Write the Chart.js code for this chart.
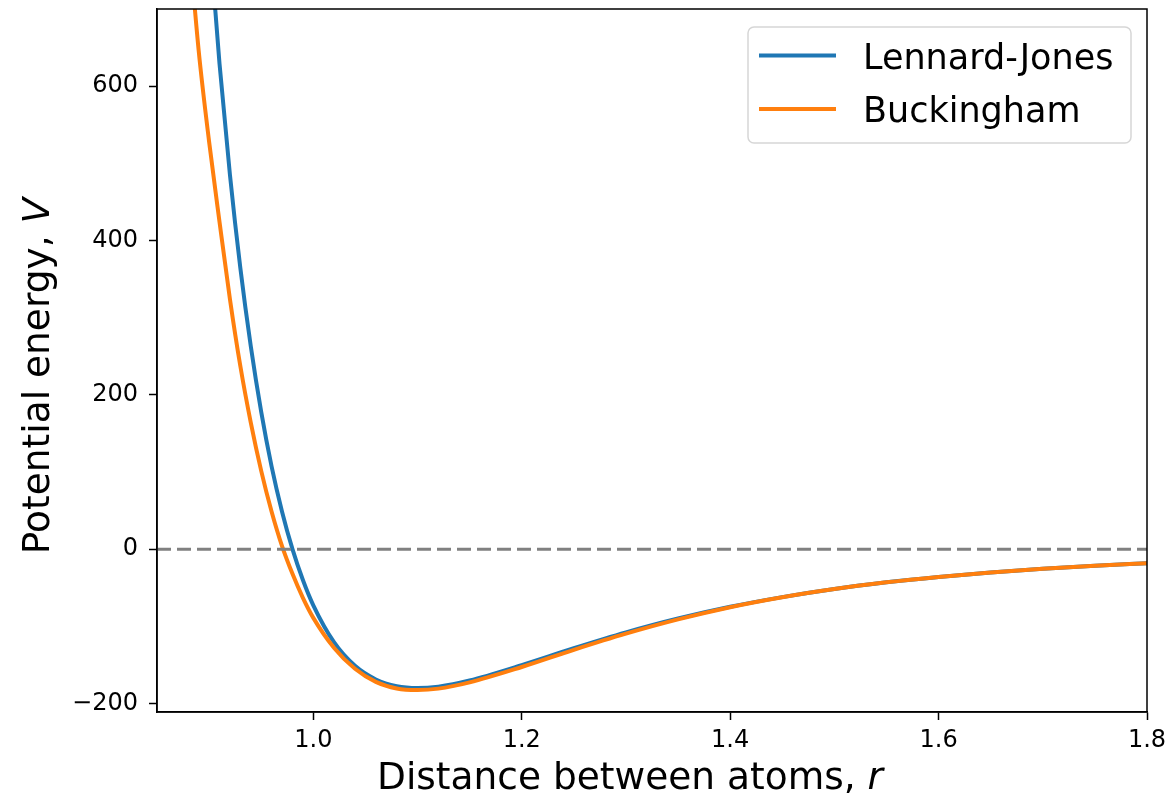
<!DOCTYPE html>
<html>
<head>
<meta charset="utf-8">
<script src="https://cdn.jsdelivr.net/npm/chart.js@4/dist/chart.umd.min.js"></script>
<style>
  body { margin: 0; background: #fff; }
  canvas { display: block; }
</style>
</head>
<body>
<canvas id="chart" width="1169" height="801"></canvas>
<script>
// distance between atoms, r
const distances = [0.88, 0.89, 0.90, 0.91, 0.92, 0.93, 0.94, 0.95, 0.96, 0.97, 0.98, 0.99,
    1.00, 1.02, 1.04, 1.06, 1.08, 1.10, 1.12, 1.15, 1.20, 1.25, 1.30, 1.35, 1.40, 1.45,
    1.50, 1.55, 1.60, 1.65, 1.70, 1.75, 1.80];

const lennardJones = [1246, 1004, 800, 629, 485, 364, 263, 178, 107, 48.6, 0, -40,
    -72.8, -120.9, -151.2, -168.8, -177.6, -180, -178.1, -170.1, -150.2, -128.4, -107.9, -89.9, -74.7, -62.1,
    -51.6, -43.0, -36.0, -30.2, -25.4, -21.5, -18.3];

const buckingham = [800, 646, 528, 424, 324, 237, 164, 101.5, 48.6, 4, -32, -63,
    -89, -128, -155, -172, -180.5, -182.5, -180.7, -172.6, -152.7, -130.4, -109.5, -91, -75.2, -62.3,
    -51.7, -43.0, -36.0, -30.2, -25.4, -21.5, -18.3];

const zeroLine = [0.85, 1.80];

const xTicks = [1.0, 1.2, 1.4, 1.6, 1.8];
const xTickLabels = ['1.0', '1.2', '1.4', '1.6', '1.8'];
const yTicks = [-200, 0, 200, 400, 600];
const yTickLabels = ['\u2212200', '0', '200', '400', '600'];

const seriesNames = ['Lennard-Jones', 'Buckingham'];
const colors = ['#1f77b4', '#ff7f0e'];

const FONT = 'DejaVu Sans';
Chart.defaults.font.family = FONT;
Chart.defaults.color = '#000';

function toPoints(xs, ys) {
    return xs.map((x, i) => ({ x: x, y: ys[i] }));
}

// frame on all four sides, like matplotlib spines
const framePlugin = {
    id: 'frame',
    afterDraw(chart) {
        const { ctx, chartArea: a } = chart;
        ctx.save();
        ctx.strokeStyle = '#000';
        ctx.lineWidth = 1.5;
        ctx.strokeRect(a.left, a.top, a.right - a.left, a.bottom - a.top);
        ctx.restore();
    }
};

// axis titles with an italic symbol at the end
function drawMixed(ctx, parts, x, y) {
    let total = 0;
    parts.forEach(p => {
        ctx.font = p.font;
        p.w = ctx.measureText(p.text).width;
        total += p.w;
    });
    let cx = x - total / 2;
    parts.forEach(p => {
        ctx.font = p.font;
        ctx.fillText(p.text, cx, y);
        cx += p.w;
    });
}

const titlesPlugin = {
    id: 'titles',
    afterDraw(chart) {
        const { ctx } = chart;
        const size = 37.5;
        ctx.save();
        ctx.fillStyle = '#000';
        ctx.textAlign = 'left';
        ctx.textBaseline = 'alphabetic';
        drawMixed(ctx, [
            { text: 'Distance between atoms, ', font: size + 'px "' + FONT + '"' },
            { text: 'r', font: 'italic ' + size + 'px "' + FONT + '"' }
        ], 630, 789);

        ctx.translate(49, 376);
        ctx.rotate(-Math.PI / 2);
        drawMixed(ctx, [
            { text: 'Potential energy, ', font: size + 'px "' + FONT + '"' },
            { text: 'V', font: 'italic ' + size + 'px "' + FONT + '"' }
        ], 0, 0);
        ctx.restore();
    }
};

// legend box in the upper right corner of the plot
const legendPlugin = {
    id: 'boxLegend',
    afterDraw(chart) {
        const { ctx } = chart;
        const left = 748, top = 27, w = 383, h = 116, r = 6;
        ctx.save();
        ctx.beginPath();
        ctx.roundRect(left, top, w, h, r);
        ctx.fillStyle = 'rgba(255,255,255,0.8)';
        ctx.fill();
        ctx.strokeStyle = '#d6d6d6';
        ctx.lineWidth = 1.5;
        ctx.stroke();

        const rows = [55.5, 109];
        ctx.font = '35px "' + FONT + '"';
        ctx.textBaseline = 'alphabetic';
        ctx.fillStyle = '#000';
        seriesNames.forEach((name, i) => {
            ctx.beginPath();
            ctx.moveTo(759, rows[i]);
            ctx.lineTo(836, rows[i]);
            ctx.strokeStyle = colors[i];
            ctx.lineWidth = 4;
            ctx.stroke();
            ctx.fillText(name, 863, rows[i] + 13);
        });
        ctx.restore();
    }
};

const ctx = document.getElementById('chart').getContext('2d');

new Chart(ctx, {
    type: 'line',
    data: {
        datasets: [
            {
                label: 'zero',
                data: toPoints(zeroLine, [0, 0]),
                borderColor: '#808080',
                borderWidth: 3,
                borderDash: [14, 6],
                pointRadius: 0,
                order: 0
            },
            {
                label: seriesNames[1],
                data: toPoints(distances, buckingham),
                borderColor: colors[1],
                borderWidth: 4,
                pointRadius: 0,
                cubicInterpolationMode: 'monotone',
                order: 1
            },
            {
                label: seriesNames[0],
                data: toPoints(distances, lennardJones),
                borderColor: colors[0],
                borderWidth: 4,
                pointRadius: 0,
                cubicInterpolationMode: 'monotone',
                order: 2
            }
        ]
    },
    options: {
        responsive: false,
        animation: false,
        events: [],
        layout: { padding: { top: 9, right: 22, left: 0, bottom: 0 } },
        plugins: {
            legend: { display: false },
            tooltip: { enabled: false }
        },
        scales: {
            x: {
                type: 'linear',
                min: 0.85,
                max: 1.8,
                afterBuildTicks: scale => { scale.ticks = xTicks.map(v => ({ value: v })); },
                afterFit: scale => {
                    scale.height = 89;
                    scale.paddingLeft = 0;
                    scale.paddingRight = 0;
                },
                ticks: {
                    font: { size: 24 },
                    padding: 6,
                    maxRotation: 0,
                    callback: (v, i) => xTickLabels[i]
                },
                grid: {
                    drawOnChartArea: false,
                    drawTicks: true,
                    tickLength: 8,
                    tickWidth: 1.5,
                    tickColor: '#000'
                },
                border: { display: true, color: '#000', width: 1.5 }
            },
            y: {
                type: 'linear',
                min: -211,
                max: 700,
                afterBuildTicks: scale => { scale.ticks = yTicks.map(v => ({ value: v })); },
                afterFit: scale => {
                    scale.width = 157;
                    scale.paddingTop = 0;
                    scale.paddingBottom = 0;
                },
                ticks: {
                    font: { size: 24 },
                    padding: 11,
                    callback: (v, i) => yTickLabels[i]
                },
                grid: {
                    drawOnChartArea: false,
                    drawTicks: true,
                    tickLength: 8,
                    tickWidth: 1.5,
                    tickColor: '#000'
                },
                border: { display: true, color: '#000', width: 1.5 }
            }
        }
    },
    plugins: [framePlugin, titlesPlugin, legendPlugin]
});
</script>
</body>
</html>
